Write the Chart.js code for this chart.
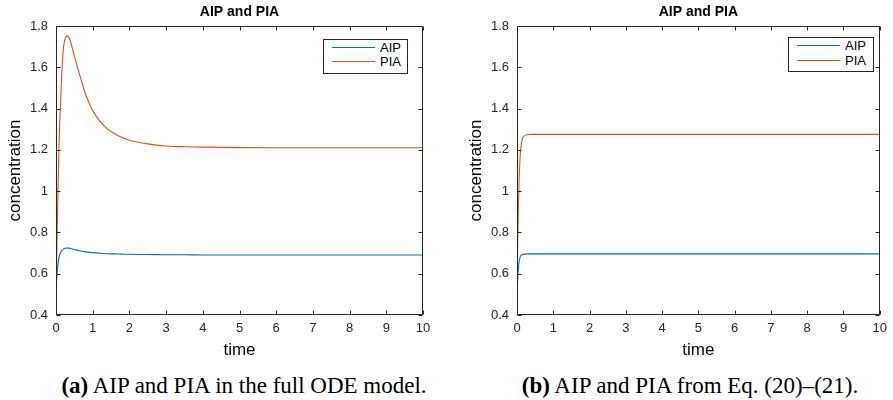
<!DOCTYPE html>
<html><head><meta charset="utf-8">
<script src="https://cdn.jsdelivr.net/npm/chart.js@4.4.0/dist/chart.umd.min.js"></script>
<style>
html,body{margin:0;padding:0;background:#fff;overflow:hidden;}
#wrap{position:relative;width:893px;height:400px;background:#fff;}
canvas{position:absolute;top:0;}
.lgbox{position:absolute;border:1px solid #262626;background:#fff;box-sizing:border-box;}
.lgln{position:absolute;height:0;}
.lgtx{position:absolute;font-family:"Liberation Sans",Arial,sans-serif;font-size:13px;line-height:14px;height:14px;color:#000;white-space:nowrap;}
.cap{position:absolute;font-family:"Liberation Serif","Times New Roman",serif;font-size:23px;color:#000;white-space:nowrap;transform:translate(-50%,-50%);line-height:1;}
</style></head>
<body>
<div id="wrap">
  <canvas id="ca" width="445" height="365" style="left:0px"></canvas>
  <canvas id="cb" width="432" height="365" style="left:461px"></canvas>
  <div class="cap" style="left:244px;top:385px"><b>(a)</b> AIP and PIA in the full ODE model.</div>
  <div class="cap" style="left:690px;top:385px"><b>(b)</b> AIP and PIA from Eq. (20)–(21).</div>
</div>
<script>
// ---- data ----
const seriesNames = ['AIP', 'PIA'];
const seriesColors = ['#0072BD', '#D95319'];

const timeA = [0,0.02,0.04,0.06,0.08,0.1,0.13,0.16,0.2,0.25,0.3,0.35,0.4,0.5,0.6,0.7,0.8,0.9,1.0,1.2,1.4,1.6,1.8,2.0,2.5,3,3.5,4,5,6,7,8,9,10];
const aipA  = [0.5,0.58,0.625,0.655,0.678,0.692,0.705,0.713,0.719,0.723,0.724,0.724,0.722,0.717,0.713,0.709,0.706,0.704,0.702,0.699,0.697,0.696,0.695,0.694,0.693,0.692,0.692,0.691,0.691,0.691,0.691,0.691,0.691,0.691];
const piaA  = [0.5,0.68,0.88,1.06,1.2,1.32,1.46,1.58,1.69,1.74,1.752,1.745,1.722,1.655,1.59,1.53,1.472,1.428,1.39,1.338,1.302,1.278,1.26,1.247,1.229,1.219,1.215,1.213,1.211,1.21,1.21,1.21,1.21,1.21];

const timeB = [0,0.02,0.04,0.06,0.08,0.1,0.15,0.2,0.3,0.4,0.5,1,2,3,4,5,6,7,8,9,10];
const aipB  = [0.5,0.58,0.63,0.66,0.677,0.686,0.693,0.695,0.696,0.696,0.696,0.696,0.696,0.696,0.696,0.696,0.696,0.696,0.696,0.696,0.696];
const piaB  = [0.5,0.75,0.93,1.06,1.15,1.2,1.255,1.268,1.274,1.275,1.275,1.275,1.275,1.275,1.275,1.275,1.275,1.275,1.275,1.275,1.275];

const xTickValues = [0,1,2,3,4,5,6,7,8,9,10];
const xTickLabels = ['0','1','2','3','4','5','6','7','8','9','10'];
const yTickValues = [0.4,0.6,0.8,1.0,1.2,1.4,1.6,1.8];
const yTickLabels = ['0.4','0.6','0.8','1','1.2','1.4','1.6','1.8'];

const chartTitle = 'AIP and PIA';
const xTitle = 'time';
const yTitle = 'concentration';

// ---- rendering ----
const FONT = '"Liberation Sans", Arial, Helvetica, sans-serif';
Chart.defaults.font.family = FONT;

const boxTicks = {
  id: 'boxTicks',
  afterDraw(chart) {
    const {ctx, chartArea: a, scales: {x, y}} = chart;
    ctx.save();
    ctx.strokeStyle = '#262626';
    ctx.lineWidth = 1;
    const L = Math.round(a.left) + 0.5, R = Math.round(a.right) - 0.5;
    const T = Math.round(a.top) + 0.5, B = Math.round(a.bottom) - 0.5;
    ctx.beginPath();
    ctx.rect(L, T, R - L, B - T);
    x.ticks.forEach(t => {
      const px = Math.round(x.getPixelForValue(t.value)) + 0.5;
      ctx.moveTo(px, B); ctx.lineTo(px, B - 4);
      ctx.moveTo(px, T); ctx.lineTo(px, T + 4);
    });
    y.ticks.forEach(t => {
      const py = Math.round(y.getPixelForValue(t.value)) + 0.5;
      ctx.moveTo(L, py); ctx.lineTo(L + 4, py);
      ctx.moveTo(R, py); ctx.lineTo(R - 4, py);
    });
    ctx.stroke();
    ctx.restore();
  }
};

function makeChart(id, time, series, padRight) {
  return new Chart(document.getElementById(id), {
    type: 'line',
    data: {
      datasets: series.map((vals, k) => ({
        label: seriesNames[k],
        data: time.map((t, i) => ({x: t, y: vals[i]})),
        borderColor: seriesColors[k],
        backgroundColor: seriesColors[k],
        borderWidth: 1.1,
        pointRadius: 0,
        fill: false,
        cubicInterpolationMode: 'monotone'
      }))
    },
    options: {
      responsive: false,
      animation: false,
      devicePixelRatio: 1,
      layout: {padding: {left: 0, right: padRight, top: 0, bottom: 0}},
      plugins: {
        legend: {display: false},
        tooltip: {enabled: false},
        title: {
          display: true, text: chartTitle, fullSize: false, color: '#000',
          font: {family: FONT, size: 14, weight: 'bold', lineHeight: 1.2},
          padding: {top: 4, bottom: 5.2}
        }
      },
      scales: {
        x: {
          type: 'linear', min: 0, max: 10,
          afterBuildTicks: s => { s.ticks = xTickValues.map(v => ({value: v})); },
          afterFit: s => { s.height = 50; },
          ticks: {callback: (v, i) => xTickLabels[i], color: '#262626', font: {size: 13}, padding: 6, maxRotation: 0, autoSkip: false},
          grid: {display: false, drawTicks: false},
          border: {display: false},
          title: {display: true, text: xTitle, color: '#000', font: {size: 17, lineHeight: 1.2}, padding: {top: 0, bottom: 4.8}}
        },
        y: {
          type: 'linear', min: 0.4, max: 1.8,
          afterBuildTicks: s => { s.ticks = yTickValues.map(v => ({value: v})); },
          afterFit: s => { s.width = 56; },
          ticks: {callback: (v, i) => yTickLabels[i], color: '#262626', font: {size: 13}, padding: 8, autoSkip: false},
          grid: {display: false, drawTicks: false},
          border: {display: false},
          title: {display: true, text: yTitle, color: '#000', font: {size: 17, lineHeight: 1.2}, padding: {top: 4.8, bottom: 0}}
        }
      }
    },
    plugins: [boxTicks]
  });
}

makeChart('ca', timeA, [aipA, piaA], 22);
makeChart('cb', timeB, [aipB, piaB], 9);

// ---- legends (HTML boxes inside the axes) ----
const wrap = document.getElementById('wrap');
function makeLegend(box, rowsY, lineX0, lineX1, textX) {
  const b = document.createElement('div');
  b.className = 'lgbox';
  Object.assign(b.style, {left: box[0] + 'px', top: box[1] + 'px', width: box[2] + 'px', height: box[3] + 'px'});
  wrap.appendChild(b);
  seriesNames.forEach((name, k) => {
    const ln = document.createElement('div');
    ln.className = 'lgln';
    Object.assign(ln.style, {left: lineX0 + 'px', width: (lineX1 - lineX0) + 'px', top: (rowsY[k] - 0.75) + 'px', borderTop: '1.5px solid ' + seriesColors[k]});
    wrap.appendChild(ln);
    const tx = document.createElement('div');
    tx.className = 'lgtx';
    tx.textContent = name;
    Object.assign(tx.style, {left: textX + 'px', top: (rowsY[k] - 7) + 'px'});
    wrap.appendChild(tx);
  });
}
makeLegend([323, 39, 85, 35], [48, 62], 332, 375, 380);
makeLegend([788, 37, 86, 35], [46, 60.5], 797, 840, 845);
</script>
</body></html>
